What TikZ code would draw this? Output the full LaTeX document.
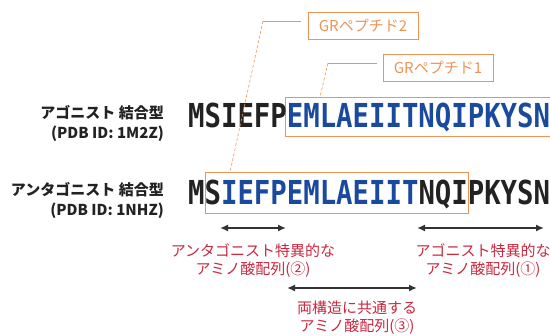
\documentclass[tikz,border=0pt]{standalone}
\usepackage{fontspec}
\newfontfamily\jp{Noto Sans CJK JP}
\newfontfamily\seqf{DejaVu Sans Mono}
\usetikzlibrary{arrows.meta}
\definecolor{seqblue}{HTML}{1A4A9E}
\definecolor{seqblack}{HTML}{222222}
\definecolor{grorange}{HTML}{EC9455}
\definecolor{redlab}{HTML}{C8283F}
\definecolor{arrgray}{HTML}{333333}
\begin{document}
\begin{tikzpicture}[x=1pt,y=-1pt,
  seq/.style={anchor=base west,inner sep=0pt,font=\seqf\bfseries\fontsize{33}{33}\selectfont},
  sideline/.style={anchor=east,inner sep=0pt,font=\jp\bfseries\fontsize{15}{17}\selectfont,text=seqblack},
  grlabel/.style={draw=grorange,line width=0.6pt,text=grorange,font=\jp\fontsize{15}{16}\selectfont,minimum width=110pt,minimum height=27pt,inner sep=0pt},
  grbox/.style={draw=grorange,line width=0.8pt,inner sep=0pt},
  leader/.style={draw=grorange,line width=0.6pt},
  span/.style={draw=arrgray,line width=1.8pt,{Latex[length=8pt,width=7pt]}-{Latex[length=8pt,width=7pt]}},
  redtext/.style={text=redlab,font=\jp\fontsize{15}{18}\selectfont,align=center,inner sep=0pt}
]
\useasboundingbox (0,0) rectangle (550,336);
\def\sq#1{\scalebox{0.828}[1]{#1}}
% boxes around peptides
\node[grbox,anchor=north west,minimum width=272pt,minimum height=39pt] (box1) at (285,97) {};
\node[grbox,anchor=north west,minimum width=263pt,minimum height=41pt] (box2) at (204.5,172) {};
% sequences
\node[seq,text=seqblack] (agoA) at (188,128) {\sq{MSIEFP}};
\node[seq,text=seqblue] (agoB) at (286.7,128) {\sq{EMLAEIITNQIPKYSN}};
\node[seq,text=seqblack] (antA) at (188,205) {\sq{MS}};
\node[seq,text=seqblue] (antB) at (220.9,205) {\sq{IEFPEMLAEIIT}};
\node[seq,text=seqblack] (antC) at (418.3,205) {\sq{NQIPKYSN}};
% side labels
\node[sideline] (l1) at (164,113) {アゴニスト 結合型};
\node[sideline] (l2) at (164,134) {(PDB ID: 1M2Z)};
\node[sideline] (l3) at (164,190) {アンタゴニスト 結合型};
\node[sideline] (l4) at (164,211) {(PDB ID: 1NHZ)};
% GR labels
\node[grlabel] (gr2) at (363,25.5) {GRペプチド2};
\node[grlabel] (gr1) at (438,67.5) {GRペプチド1};
\coordinate (k2) at (263,21);
\coordinate (k1) at (328,63);
\coordinate (t2) at (230,172);
\coordinate (t1) at (320,97);
\draw[leader] (gr2.west |- k2) ++(-7,0) -- (k2);
\draw[leader,dashed,dash pattern=on 3pt off 2pt] (k2) -- (t2);
\draw[leader] (gr1.west |- k1) ++(-6,0) -- (k1);
\draw[leader,dashed,dash pattern=on 3pt off 2pt] (k1) -- (t1);
% arrows
\coordinate (a1s) at (220,228);
\coordinate (a1e) at (286,228);
\coordinate (a2s) at (417,228);
\coordinate (a2e) at (544,228);
\coordinate (a3s) at (287,288);
\coordinate (a3e) at (417,288);
\draw[span] (a1s) -- (a1e);
\draw[span] (a2s) -- (a2e);
\draw[span] (a3s) -- (a3e);
% red labels
\node[redtext] (r1) at (253,261) {アンタゴニスト特異的な\\アミノ酸配列(②)};
\node[redtext] (r2) at (483,261) {アゴニスト特異的な\\アミノ酸配列(①)};
\node[redtext] (r3) at (357,317.5) {両構造に共通する\\アミノ酸配列(③)};
\end{tikzpicture}
\end{document}
